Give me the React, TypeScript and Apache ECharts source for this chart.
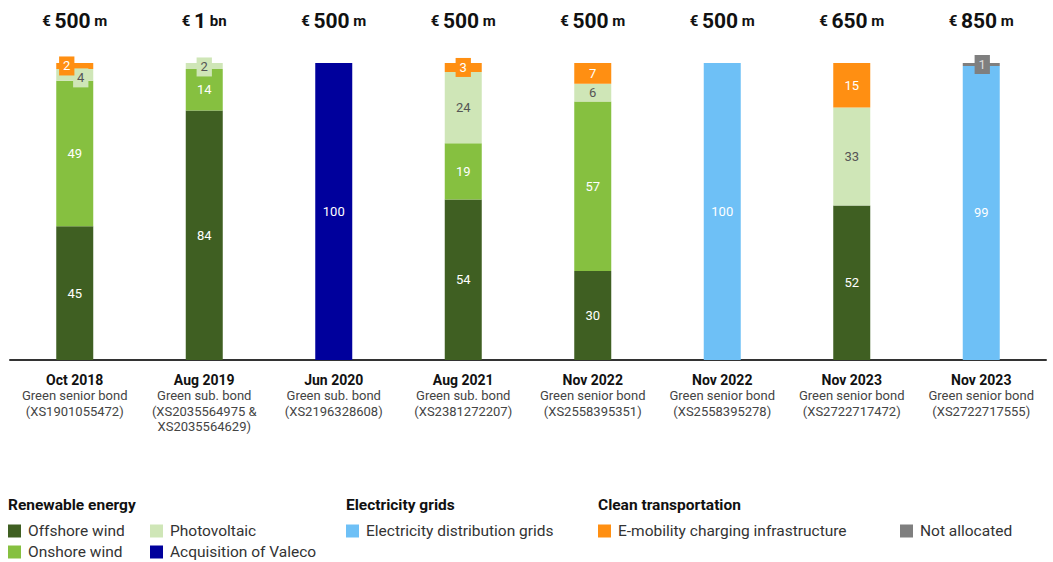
import React, { useEffect, useRef } from "react";
import * as echarts from "echarts";

const categories = ["Oct 2018", "Aug 2019", "Jun 2020", "Aug 2021", "Nov 2022", "Nov 2022", "Nov 2023", "Nov 2023"];
const bondTypes = ["Green senior bond", "Green sub. bond", "Green sub. bond", "Green sub. bond", "Green senior bond", "Green senior bond", "Green senior bond", "Green senior bond"];
const isins = [
  ["(XS1901055472)"],
  ["(XS2035564975 &", "XS2035564629)"],
  ["(XS2196328608)"],
  ["(XS2381272207)"],
  ["(XS2558395351)"],
  ["(XS2558395278)"],
  ["(XS2722717472)"],
  ["(XS2722717555)"],
];
const amounts = ["500", "1", "500", "500", "500", "500", "650", "850"];
const units = ["m", "bn", "m", "m", "m", "m", "m", "m"];

const offshoreWind = [45, 84, null, 54, 30, null, 52, null];
const onshoreWind = [49, 14, null, 19, 57, null, null, null];
const photovoltaic = [4, 2, null, 24, 6, null, 33, null];
const valeco = [null, null, 100, null, null, null, null, null];
const grids = [null, null, null, null, null, 100, null, 99];
const eMobility = [2, null, null, 3, 7, null, 15, null];
const notAllocated = [null, null, null, null, null, null, null, 1];

const FONT = "Roboto, sans-serif";

const COLORS = {
  offshore: "#3F5F22",
  onshore: "#86C040",
  pv: "#CFE6B7",
  valeco: "#00009C",
  grids: "#6EC0F6",
  emob: "#FF8F12",
  na: "#7F7F7F",
};

type Override = Record<number, number[]>;

function makeSeries(name: string, data: (number | null)[], color: string, labelColor: string, boxed: Override = {}) {
  return {
    name,
    type: "bar",
    stack: "total",
    barWidth: 37,
    itemStyle: { color },
    label: {
      show: true,
      position: "inside",
      color: labelColor,
      fontFamily: FONT,
      fontSize: 13,
    },
    data: data.map((v, i) => {
      if (v === null) return null;
      const off = boxed[i];
      if (!off) return v;
      return {
        value: v,
        label: {
          backgroundColor: color,
          padding: [3, 4, 3, 4],
          offset: off,
        },
      };
    }),
  };
}

function legendItem(name: string, left: number, top: number) {
  return {
    data: [name],
    left,
    top,
    padding: 0,
    icon: "rect",
    itemWidth: 13,
    itemHeight: 13,
    selectedMode: false,
    textStyle: { fontFamily: FONT, fontSize: 15.5, color: "#333", padding: [0, 0, 0, 2] },
  };
}

export default function App() {
  const ref = useRef<HTMLDivElement>(null);
  useEffect(() => {
    document.body.style.margin = "0";
    const chart = echarts.init(ref.current!, null, { renderer: "svg" });
    chart.setOption({
      animation: false,
      textStyle: { fontFamily: FONT },
      grid: { left: 10, right: 7, top: 63, bottom: 202 },
      xAxis: [
        {
          type: "category",
          data: categories,
          position: "bottom",
          axisLine: { lineStyle: { color: "#333", width: 2 } },
          axisTick: { show: false },
          axisLabel: {
            margin: 11,
            interval: 0,
            formatter: (_v: string, i: number) =>
              [`{d|${categories[i]}}`, `{t|${bondTypes[i]}}`, ...isins[i].map((s) => `{t|${s}}`)].join("\n"),
            rich: {
              d: { fontFamily: FONT, fontSize: 14, fontWeight: "bold", color: "#111", lineHeight: 17 },
              t: { fontFamily: FONT, fontSize: 13, color: "#444", lineHeight: 15.5 },
            },
          },
        },
        {
          type: "category",
          data: categories,
          position: "top",
          axisLine: { show: false },
          axisTick: { show: false },
          axisLabel: {
            margin: 32,
            interval: 0,
            formatter: (_v: string, i: number) => `{e|€ }{v|${amounts[i]}}{u| ${units[i]}}`,
            rich: {
              e: { fontFamily: FONT, fontSize: 15, fontWeight: "bold", color: "#111" },
              v: { fontFamily: FONT, fontSize: 21, fontWeight: "bold", color: "#111" },
              u: { fontFamily: FONT, fontSize: 15, fontWeight: "bold", color: "#111" },
            },
          },
        },
      ],
      yAxis: { type: "value", min: 0, max: 100, show: false },
      legend: [
        legendItem("Offshore wind", 8, 523),
        legendItem("Onshore wind", 8, 544),
        legendItem("Photovoltaic", 150, 523),
        legendItem("Acquisition of Valeco", 150, 544),
        legendItem("Electricity distribution grids", 346, 523),
        legendItem("E-mobility charging infrastructure", 598, 523),
        legendItem("Not allocated", 900, 523),
      ],
      graphic: [
        { type: "text", left: 8, top: 497, style: { text: "Renewable energy", font: `bold 15.5px ${FONT}`, fill: "#111" } },
        { type: "text", left: 346, top: 497, style: { text: "Electricity grids", font: `bold 15.5px ${FONT}`, fill: "#111" } },
        { type: "text", left: 598, top: 497, style: { text: "Clean transportation", font: `bold 15.5px ${FONT}`, fill: "#111" } },
      ],
      series: [
        makeSeries("Offshore wind", offshoreWind, COLORS.offshore, "#fff"),
        makeSeries("Onshore wind", onshoreWind, COLORS.onshore, "#fff"),
        makeSeries("Photovoltaic", photovoltaic, COLORS.pv, "#555", { 0: [6, 3], 1: [0, 1] }),
        makeSeries("Acquisition of Valeco", valeco, COLORS.valeco, "#fff"),
        makeSeries("Electricity distribution grids", grids, COLORS.grids, "#fff"),
        makeSeries("E-mobility charging infrastructure", eMobility, COLORS.emob, "#fff", { 0: [-8, 0], 3: [0, 0] }),
        makeSeries("Not allocated", notAllocated, COLORS.na, "#ddd", { 7: [1, 0] }),
      ],
    });
    return () => chart.dispose();
  }, []);
  return <div ref={ref} style={{ width: 1053, height: 562 }} />;
}
